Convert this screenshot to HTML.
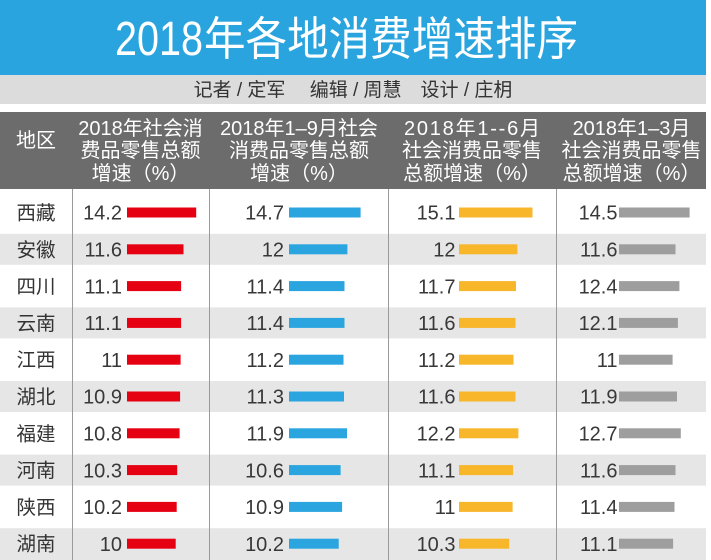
<!DOCTYPE html>
<html>
<head>
<meta charset="utf-8">
<style>
html,body{margin:0;padding:0;background:#fff;width:711px;height:560px;overflow:hidden;}
svg{display:block;}
.cj{font-family:"Liberation Sans","Noto Sans CJK SC",sans-serif;}
.num{font-family:"Liberation Sans",sans-serif;font-size:20px;fill:#383838;text-anchor:end;}
.nm{font-family:"Noto Sans CJK SC","Liberation Sans",sans-serif;font-size:19.5px;fill:#333;text-anchor:middle;}
.hd{font-family:"Liberation Sans","Noto Sans CJK SC",sans-serif;font-size:20px;fill:#fff;text-anchor:middle;}
</style>
</head>
<body>
<svg width="711" height="560" viewBox="0 0 711 560" xmlns="http://www.w3.org/2000/svg">
<rect x="0" y="0" width="711" height="560" fill="#fff"/>
<!-- title band -->
<rect x="0" y="0" width="706" height="75" fill="#2aa4de"/>
<text x="115" y="55" font-family="Liberation Sans, sans-serif" font-size="48" fill="#fff" textLength="88" lengthAdjust="spacingAndGlyphs">2018</text>
<text x="204" y="55" font-family="Noto Sans CJK SC, sans-serif" font-size="46" fill="#fff" textLength="374" lengthAdjust="spacingAndGlyphs">年各地消费增速排序</text>
<!-- credit band -->
<rect x="0" y="75" width="706" height="29" fill="#dcdcdc"/>
<text x="353" y="96" class="cj" font-size="19" fill="#333" text-anchor="middle" xml:space="preserve">记者 / 定军　 编辑 / 周慧　设计 / 庄枂</text>
<!-- header -->
<rect x="0" y="112" width="706" height="77" fill="#6c6c6c"/>
<text class="hd" x="36" y="147">地区</text>
<text class="hd" x="140.5" y="135">2018年社会消</text>
<text class="hd" x="140.5" y="157">费品零售总额</text>
<text class="hd" x="140.5" y="180">增速（%）</text>
<text class="hd" x="299" y="135">2018年1–9月社会</text>
<text class="hd" x="299" y="157">消费品零售总额</text>
<text class="hd" x="299" y="180">增速（%）</text>
<text class="hd" x="472" y="135" textLength="136" lengthAdjust="spacing">2018年1--6月</text>
<text class="hd" x="472" y="157">社会消费品零售</text>
<text class="hd" x="472" y="180">总额增速（%）</text>
<text class="hd" x="631.5" y="135">2018年1–3月</text>
<text class="hd" x="631.5" y="157">社会消费品零售</text>
<text class="hd" x="631.5" y="180">总额增速（%）</text>
<!-- alternate row bands -->
<rect x="0" y="233.8" width="706" height="31" fill="#e6e6e6"/>
<rect x="0" y="307.4" width="706" height="31" fill="#e6e6e6"/>
<rect x="0" y="381" width="706" height="31" fill="#e6e6e6"/>
<rect x="0" y="454.6" width="706" height="31" fill="#e6e6e6"/>
<rect x="0" y="528.2" width="706" height="31.8" fill="#e6e6e6"/>
<!-- dividers -->
<g stroke="#9a9a9a" stroke-width="1">
<line x1="72.5" y1="189" x2="72.5" y2="560"/>
<line x1="209.5" y1="189" x2="209.5" y2="560"/>
<line x1="388.5" y1="189" x2="388.5" y2="560"/>
<line x1="556.5" y1="189" x2="556.5" y2="560"/>
</g>
<!-- names -->
<g class="nm">
<text x="36" y="219.5">西藏</text>
<text x="36" y="256.3">安徽</text>
<text x="36" y="293.1">四川</text>
<text x="36" y="329.9">云南</text>
<text x="36" y="366.7">江西</text>
<text x="36" y="403.5">湖北</text>
<text x="36" y="440.3">福建</text>
<text x="36" y="477.1">河南</text>
<text x="36" y="513.9">陕西</text>
<text x="36" y="550.7">湖南</text>
</g>
<!-- col1 -->
<g class="num">
<text x="122" y="219.7">14.2</text>
<text x="122" y="256.5">11.6</text>
<text x="122" y="293.3">11.1</text>
<text x="122" y="330.1">11.1</text>
<text x="122" y="366.9">11</text>
<text x="122" y="403.7">10.9</text>
<text x="122" y="440.5">10.8</text>
<text x="122" y="477.3">10.3</text>
<text x="122" y="514.1">10.2</text>
<text x="122" y="550.9">10</text>
</g>
<g fill="#e50012">
<rect x="127" y="207.5" width="69.2" height="10"/>
<rect x="127" y="244.3" width="56.5" height="10"/>
<rect x="127" y="281.1" width="54.1" height="10"/>
<rect x="127" y="317.9" width="54.1" height="10"/>
<rect x="127" y="354.7" width="53.6" height="10"/>
<rect x="127" y="391.5" width="53.1" height="10"/>
<rect x="127" y="428.3" width="52.6" height="10"/>
<rect x="127" y="465.1" width="50.2" height="10"/>
<rect x="127" y="501.9" width="49.7" height="10"/>
<rect x="127" y="538.7" width="48.7" height="10"/>
</g>
<!-- col2 -->
<g class="num">
<text x="284" y="219.7">14.7</text>
<text x="284" y="256.5">12</text>
<text x="284" y="293.3">11.4</text>
<text x="284" y="330.1">11.4</text>
<text x="284" y="366.9">11.2</text>
<text x="284" y="403.7">11.3</text>
<text x="284" y="440.5">11.9</text>
<text x="284" y="477.3">10.6</text>
<text x="284" y="514.1">10.9</text>
<text x="284" y="550.9">10.2</text>
</g>
<g fill="#2aa5df">
<rect x="289" y="207.5" width="71.6" height="10"/>
<rect x="289" y="244.3" width="58.4" height="10"/>
<rect x="289" y="281.1" width="55.5" height="10"/>
<rect x="289" y="317.9" width="55.5" height="10"/>
<rect x="289" y="354.7" width="54.5" height="10"/>
<rect x="289" y="391.5" width="55.0" height="10"/>
<rect x="289" y="428.3" width="58.0" height="10"/>
<rect x="289" y="465.1" width="51.6" height="10"/>
<rect x="289" y="501.9" width="53.1" height="10"/>
<rect x="289" y="538.7" width="49.7" height="10"/>
</g>
<!-- col3 -->
<g class="num">
<text x="455.5" y="219.7">15.1</text>
<text x="455.5" y="256.5">12</text>
<text x="455.5" y="293.3">11.7</text>
<text x="455.5" y="330.1">11.6</text>
<text x="455.5" y="366.9">11.2</text>
<text x="455.5" y="403.7">11.6</text>
<text x="455.5" y="440.5">12.2</text>
<text x="455.5" y="477.3">11.1</text>
<text x="455.5" y="514.1">11</text>
<text x="455.5" y="550.9">10.3</text>
</g>
<g fill="#f8b62b">
<rect x="459" y="207.5" width="73.5" height="10"/>
<rect x="459" y="244.3" width="58.4" height="10"/>
<rect x="459" y="281.1" width="57.0" height="10"/>
<rect x="459" y="317.9" width="56.5" height="10"/>
<rect x="459" y="354.7" width="54.5" height="10"/>
<rect x="459" y="391.5" width="56.5" height="10"/>
<rect x="459" y="428.3" width="59.4" height="10"/>
<rect x="459" y="465.1" width="54.1" height="10"/>
<rect x="459" y="501.9" width="53.6" height="10"/>
<rect x="459" y="538.7" width="50.2" height="10"/>
</g>
<!-- col4 -->
<g class="num">
<text x="617.5" y="219.7">14.5</text>
<text x="617.5" y="256.5">11.6</text>
<text x="617.5" y="293.3">12.4</text>
<text x="617.5" y="330.1">12.1</text>
<text x="617.5" y="366.9">11</text>
<text x="617.5" y="403.7">11.9</text>
<text x="617.5" y="440.5">12.7</text>
<text x="617.5" y="477.3">11.6</text>
<text x="617.5" y="514.1">11.4</text>
<text x="617.5" y="550.9">11.1</text>
</g>
<g fill="#9e9e9e">
<rect x="619" y="207.5" width="70.6" height="10"/>
<rect x="619" y="244.3" width="56.5" height="10"/>
<rect x="619" y="281.1" width="60.4" height="10"/>
<rect x="619" y="317.9" width="58.9" height="10"/>
<rect x="619" y="354.7" width="53.6" height="10"/>
<rect x="619" y="391.5" width="58.0" height="10"/>
<rect x="619" y="428.3" width="61.8" height="10"/>
<rect x="619" y="465.1" width="56.5" height="10"/>
<rect x="619" y="501.9" width="55.5" height="10"/>
<rect x="619" y="538.7" width="54.1" height="10"/>
</g>
</svg>
</body>
</html>
